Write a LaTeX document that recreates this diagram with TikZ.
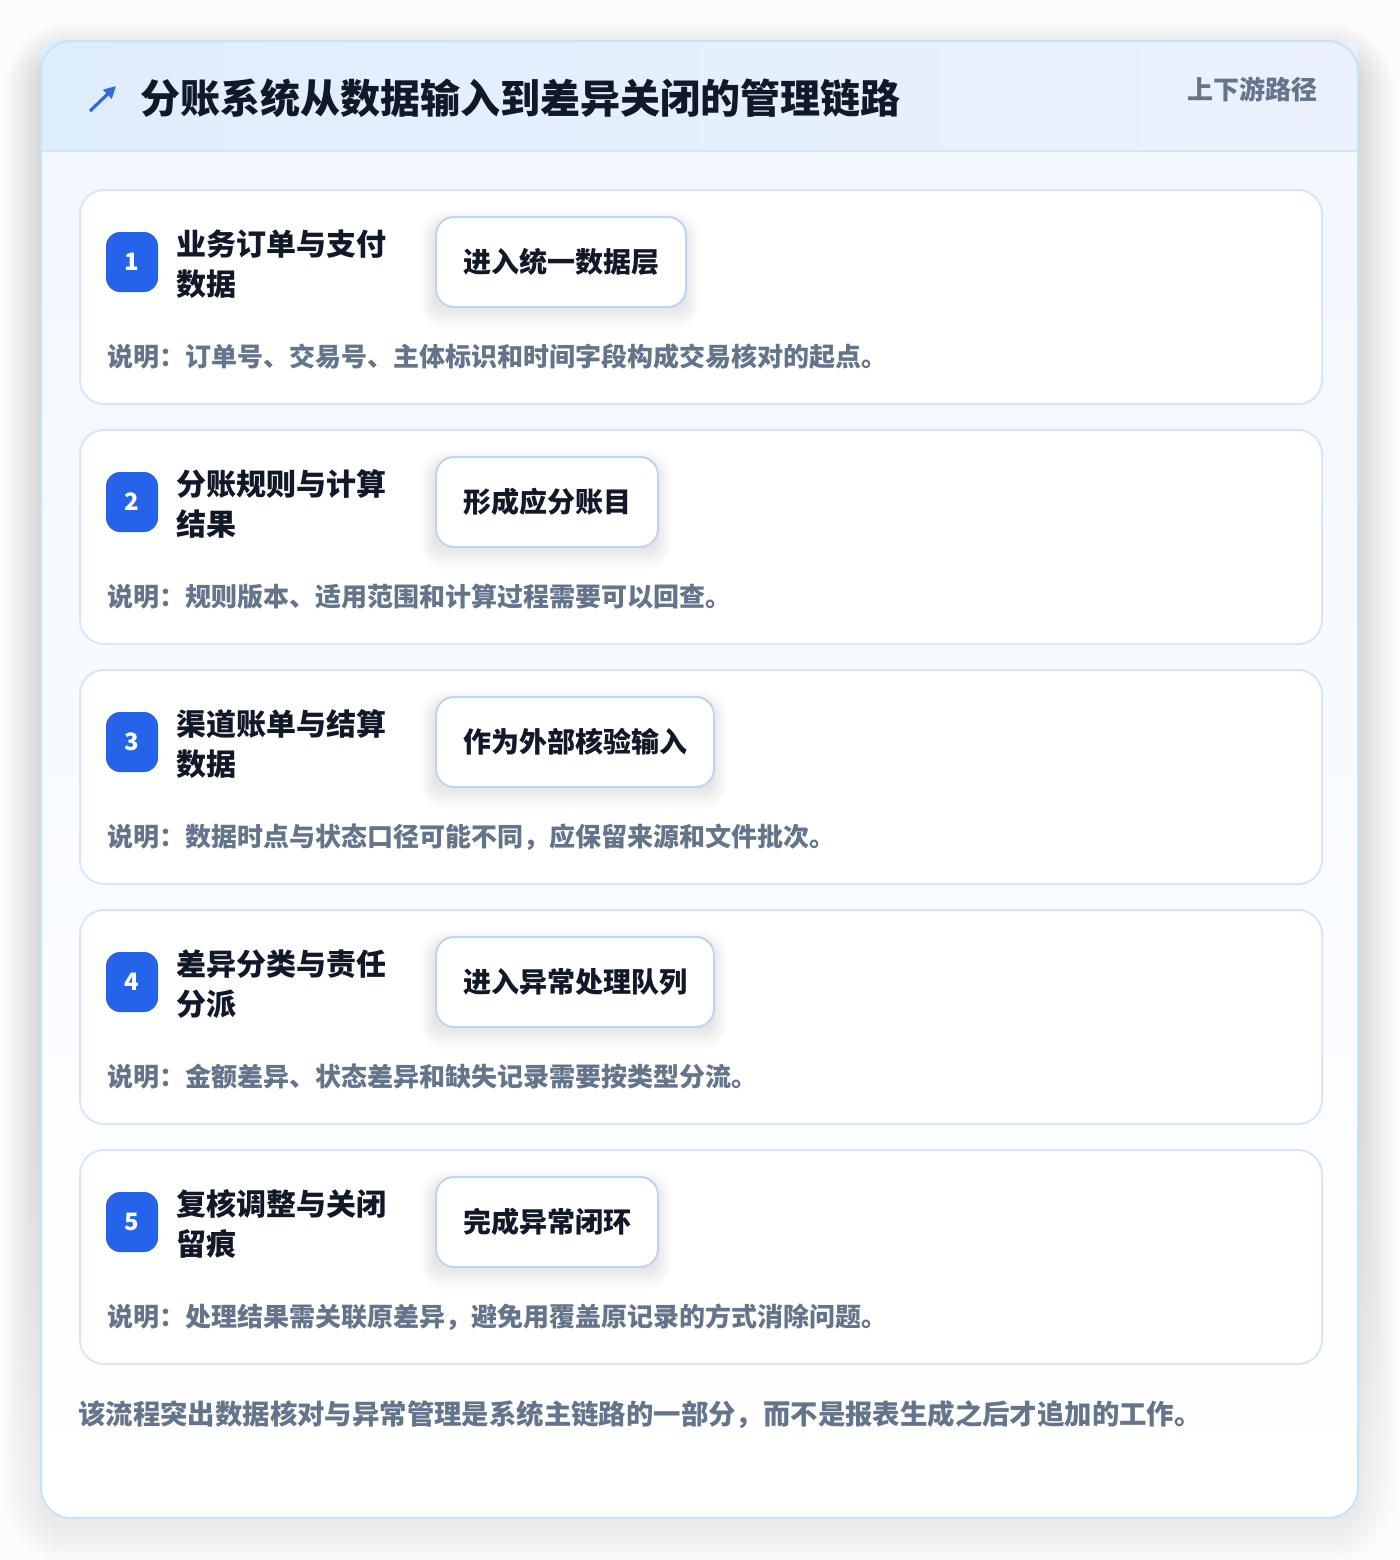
\documentclass[tikz,border=0pt]{standalone}
\usepackage{fontspec}
\setmainfont{Noto Sans CJK SC}
\usetikzlibrary{arrows.meta}
\definecolor{bgcol}{HTML}{FCFCFD}
\definecolor{outerline}{HTML}{C8E2F6}
\definecolor{hdrL}{HTML}{DFEEFC}
\definecolor{hdrR}{HTML}{EAF1FD}
\definecolor{hdrline}{HTML}{D3E6F8}
\definecolor{bodytop}{HTML}{F1F7FE}
\definecolor{cardline}{HTML}{D8E7F7}
\definecolor{badge}{HTML}{2563EB}
\definecolor{pillline}{HTML}{BED4F0}
\definecolor{ink}{HTML}{111827}
\definecolor{muted}{HTML}{64748B}
\definecolor{iconblue}{HTML}{2F6BE0}
\definecolor{shade}{HTML}{1E293B}
\tikzset{
  cardbox/.style={draw=cardline, line width=1pt, fill=white, rounded corners=12pt,
    minimum width=621pt, minimum height=107pt, anchor=north west, inner sep=0pt},
  badgebox/.style={fill=badge, rounded corners=7pt, minimum width=26pt, minimum height=30pt,
    inner sep=0pt, text=white, font=\bfseries\fontsize{12}{12}\selectfont},
  stitle/.style={anchor=west, inner sep=0pt, align=left, text=ink,
    font=\bfseries\fontsize{15}{20}\selectfont},
  pillbox/.style={anchor=west, draw=pillline, line width=1pt, fill=white, rounded corners=9pt,
    minimum height=45pt, inner xsep=13.5pt, inner ysep=0pt, text=ink,
    font=\bfseries\fontsize{14}{14}\selectfont},
  desc/.style={anchor=west, inner sep=0pt, text=muted, font=\bfseries\fontsize{13}{13}\selectfont}
}
\begin{document}
\begin{tikzpicture}[x=0.5pt,y=-0.5pt]
\useasboundingbox (0,0) rectangle (1400,1560);
\fill[bgcol] (0,0) rectangle (1400,1560);
% soft shadow of outer card
\foreach \i in {1,...,18}{
  \fill[shade, opacity=0.0055, rounded corners=15pt+\i pt]
    (41-2*\i,41-2*\i+18) rectangle (1358+2*\i,1518+2*\i+10);
}
\path[top color=bodytop, bottom color=white, rounded corners=15pt] (41,41) rectangle (1358,1518);
% header band
\fill[left color=hdrL, right color=hdrR] (42,42) rectangle (1357,151);
\draw[hdrline, line width=1pt] (42,151) -- (1357,151);
\draw[outerline, line width=1pt, rounded corners=15pt] (41,41) rectangle (1358,1518);
% header icon and texts
\coordinate (arrS) at (90,111);
\coordinate (arrE) at (116,86);
\draw[iconblue, line width=1.6pt, -{Triangle[length=6pt,width=6pt]}] (arrS) -- (arrE);
\node[anchor=west, inner sep=0pt, text=ink, font=\bfseries\fontsize{20}{20}\selectfont] (title) at (140,98)
  {分账系统从数据输入到差异关闭的管理链路};
\node[anchor=east, inner sep=0pt, text=muted, font=\bfseries\fontsize{13}{13}\selectfont] (tag) at (1318,89)
  {上下游路径};
% cards
\foreach \k/\ta/\tb/\pill/\pw/\ds in {
  0/业务订单与支付/数据/进入统一数据层/250/说明：订单号、交易号、主体标识和时间字段构成交易核对的起点。,
  1/分账规则与计算/结果/形成应分账目/222/说明：规则版本、适用范围和计算过程需要可以回查。,
  2/渠道账单与结算/数据/作为外部核验输入/278/说明：数据时点与状态口径可能不同，应保留来源和文件批次。,
  3/差异分类与责任/分派/进入异常处理队列/278/说明：金额差异、状态差异和缺失记录需要按类型分流。,
  4/复核调整与关闭/留痕/完成异常闭环/222/说明：处理结果需关联原差异，避免用覆盖原记录的方式消除问题。}{
  \pgfmathtruncatemacro{\n}{\k+1}
  \node[cardbox] (card\n) at (79,189+240*\k) {};
  \node[badgebox] (badge\n) at (132,262+240*\k) {\n};
  \node[stitle] (stitle\n) at (176,264+240*\k) {\ta\\\tb};
  % soft shadow below pill
  \foreach \j in {1,...,8}{
    \fill[shade, opacity=0.008, rounded corners=9pt+0.5*\j pt]
      (435-1.8*\j,217+240*\k-1.8*\j+8) rectangle (435+\pw+1.8*\j,307+240*\k+1.8*\j+8);
  }
  \node[pillbox] (pill\n) at (435,262+240*\k) {\pill};
  \node[desc] (desc\n) at (107,357+240*\k) {\ds};
}
\node[anchor=west, inner sep=0pt, text=muted, font=\bfseries\fontsize{13.7}{14}\selectfont] (foot) at (78,1415)
  {该流程突出数据核对与异常管理是系统主链路的一部分，而不是报表生成之后才追加的工作。};
\end{tikzpicture}
\end{document}
